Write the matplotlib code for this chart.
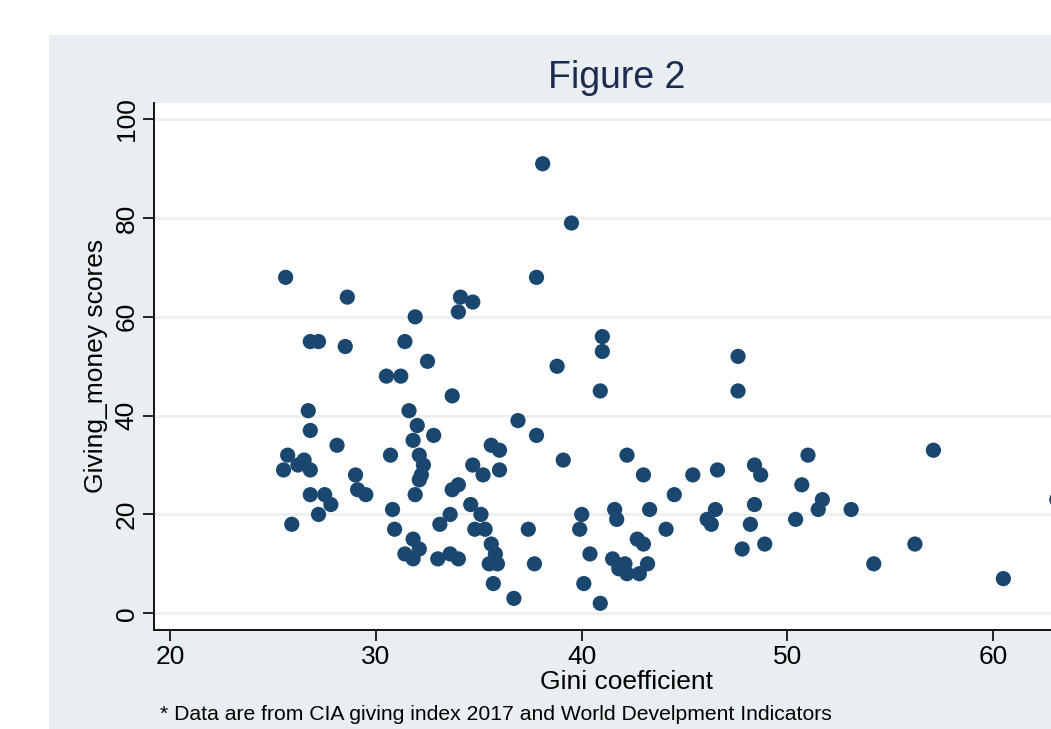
import numpy as np
import matplotlib
matplotlib.use("Agg")
from matplotlib import pyplot as plt
from matplotlib.patches import Rectangle

# Gini coefficient vs giving money score, one entry per country
gini = [25.6, 28.6, 31.9, 26.8, 27.2, 28.5, 31.4, 32.5, 30.5, 31.2,
        38.1, 39.5, 37.8, 34.1, 34.7, 34.0, 41.0, 41.0, 38.8, 47.6,
        33.7, 40.9, 47.6, 36.9, 37.8, 32.8, 35.6, 36.0, 39.1, 42.2,
        34.7, 35.2, 36.0, 43.0, 45.4, 46.6, 34.0, 33.7, 44.5, 34.6,
        35.1, 33.6, 33.1, 40.0, 41.6, 41.7, 43.3, 34.8, 35.3, 37.4,
        39.9, 44.1, 35.6, 35.8, 35.5, 35.9, 33.6, 34.0, 37.7, 40.4,
        41.5, 41.8, 42.1, 42.2, 42.8, 43.2, 42.7, 43.0, 35.7, 40.1,
        36.7, 40.9, 47.8, 57.1, 51.0, 48.4, 48.7, 50.7, 51.7, 51.5,
        53.1, 48.4, 50.4, 48.2, 48.9, 56.2, 54.2, 60.5, 46.5, 46.1,
        46.3, 26.7, 31.6, 32.0, 26.8, 28.1, 31.8, 30.7, 32.1, 32.3,
        32.2, 32.1, 25.7, 26.5, 25.5, 26.2, 26.8, 29.0, 29.1, 29.5,
        26.8, 27.5, 27.8, 27.2, 25.9, 31.9, 30.8, 30.9, 31.8, 32.1,
        31.4, 31.8, 33.0, 63.1]
giving = [68, 64, 60, 55, 55, 54, 55, 51, 48, 48,
          91, 79, 68, 64, 63, 61, 56, 53, 50, 52,
          44, 45, 45, 39, 36, 36, 34, 33, 31, 32,
          30, 28, 29, 28, 28, 29, 26, 25, 24, 22,
          20, 20, 18, 20, 21, 19, 21, 17, 17, 17,
          17, 17, 14, 12, 10, 10, 12, 11, 10, 12,
          11, 9, 10, 8, 8, 10, 15, 14, 6, 6,
          3, 2, 13, 33, 32, 30, 28, 26, 23, 21,
          21, 22, 19, 18, 14, 14, 10, 7, 21, 19,
          18, 41, 41, 38, 37, 34, 35, 32, 32, 30,
          28, 27, 32, 31, 29, 30, 29, 28, 25, 24,
          24, 24, 22, 20, 18, 24, 21, 17, 15, 13,
          12, 11, 11, 23]
xticks = [20, 30, 40, 50, 60]
yticks = [0, 20, 40, 60, 80, 100]

plt.rcParams['font.family'] = ['Liberation Sans', 'DejaVu Sans']

W, H = 1051, 729
fig = plt.figure(figsize=(W / 100, H / 100), dpi=100)
fig.patch.set_facecolor("white")

# graph region background
fig.patches.append(Rectangle((49 / W, 0), 1 - 49 / W, 1 - 35 / H,
                             transform=fig.transFigure, facecolor="#e8eef1",
                             edgecolor="none", zorder=-5))

ax = fig.add_axes([154 / W, 1 - 629.5 / H, (1100 - 154) / W, (629.5 - 103) / H])
ax.set_zorder(2)
ax.set_facecolor("white")
ax.scatter(gini, giving, s=120, color="#1a476f", edgecolors="none", zorder=3)

ax.set_xlim(19.2, 65.2)
ax.set_ylim(-3.3, 103.3)
ax.set_xticks(xticks)
ax.set_yticks(yticks)
ax.set_yticklabels([str(v) for v in yticks], rotation=90, va="center")
ax.tick_params(axis="both", direction="out", length=8, width=1.2,
               labelsize=19, colors="black", pad=3)
ax.grid(axis="y", color="#ecf1f2", linewidth=2.2, zorder=0)
ax.set_axisbelow(True)
for side in ["top", "right"]:
    ax.spines[side].set_visible(False)
for side in ["left", "bottom"]:
    ax.spines[side].set_linewidth(1.3)

ax.set_xlabel("Gini coefficient", fontsize=19, labelpad=1)
ax.set_ylabel("Giving_money scores", fontsize=19, labelpad=5)

fig.text(617 / W, 1 - 78 / H, "Figure 2", fontsize=27, color="#1d2b4f",
         ha="center", va="center")
fig.text(160 / W, 1 - 714 / H,
         "* Data are from CIA giving index 2017 and World Develpment Indicators",
         fontsize=15.2, ha="left", va="center")

fig.savefig("out.png", dpi=100)
